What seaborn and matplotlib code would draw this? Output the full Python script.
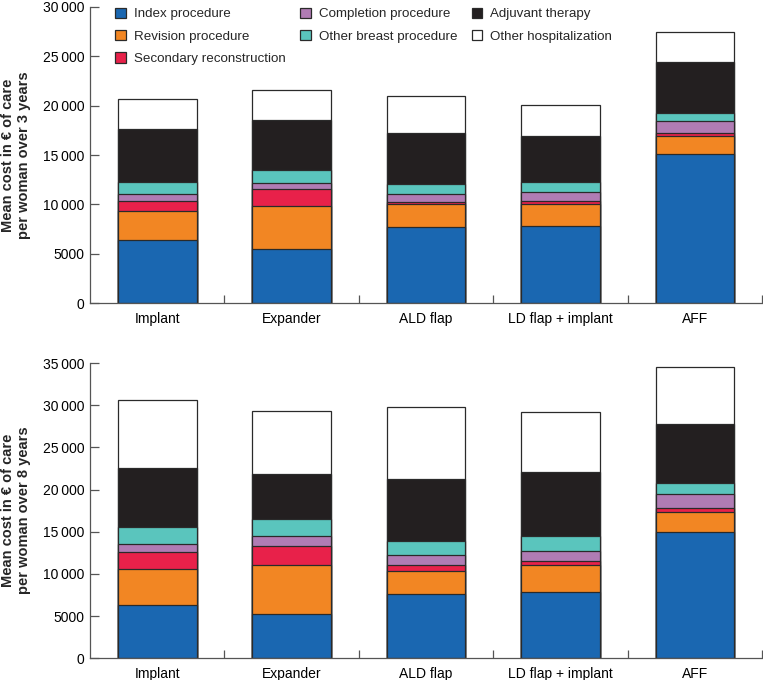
import matplotlib
matplotlib.use("Agg")
import matplotlib.pyplot as plt
from matplotlib.ticker import FuncFormatter, FixedLocator
import seaborn as sns
import pandas as pd
import numpy as np

categorias = ["Implant", "Expander", "ALD flap", "LD flap + implant", "AFF"]
componentes = ["Index procedure", "Revision procedure", "Secondary reconstruction",
               "Completion procedure", "Other breast procedure", "Adjuvant therapy",
               "Other hospitalization"]
colores = ["#1a67b1", "#f28623", "#e8214a", "#b07cb4", "#5ac5bd", "#231f20", "#ffffff"]

# costes medios por segmento (euros), 3 anios
index_3 = [6400, 5500, 7700, 7800, 15100]
revision_3 = [2900, 4300, 2300, 2200, 1800]
secundaria_3 = [1000, 1800, 200, 350, 300]
completion_3 = [750, 600, 900, 950, 1250]
otra_mama_3 = [1250, 1300, 1000, 1000, 800]
adyuvante_3 = [5300, 5000, 5100, 4650, 5200]
otra_hosp_3 = [3100, 3100, 3800, 3100, 3000]

# 8 anios
index_8 = [6300, 5300, 7650, 7800, 15000]
revision_8 = [4250, 5700, 2750, 3200, 2400]
secundaria_8 = [2000, 2350, 600, 550, 400]
completion_8 = [1000, 1200, 1200, 1200, 1650]
otra_mama_8 = [2050, 1950, 1700, 1800, 1350]
adyuvante_8 = [6950, 5300, 7350, 7550, 6950]
otra_hosp_8 = [8100, 7500, 8600, 7050, 6750]

datos_3 = [index_3, revision_3, secundaria_3, completion_3, otra_mama_3, adyuvante_3, otra_hosp_3]
datos_8 = [index_8, revision_8, secundaria_8, completion_8, otra_mama_8, adyuvante_8, otra_hosp_8]

sns.set_style("ticks")
plt.rcParams["font.family"] = ["Liberation Sans", "DejaVu Sans"]
plt.rcParams["axes.edgecolor"] = "#555555"
plt.rcParams["xtick.color"] = "#555555"
plt.rcParams["ytick.color"] = "#555555"
plt.rcParams["xtick.labelcolor"] = "black"
plt.rcParams["ytick.labelcolor"] = "black"


def miles(v, pos):
    v = int(round(v))
    if v >= 10000:
        return "{:,}".format(v).replace(",", "\u2009")
    return str(v)


def apilar(ax, datos, ymax, paso, etiqueta):
    tabla = pd.DataFrame({c: d for c, d in zip(componentes, datos)}, index=categorias)
    acumulado = tabla.cumsum(axis=1)
    # se dibujan de arriba hacia abajo para que cada capa tape a la anterior
    for comp, color in reversed(list(zip(componentes, colores))):
        df = pd.DataFrame({"cat": categorias, "valor": acumulado[comp].values})
        sns.barplot(data=df, x="cat", y="valor", color=color, width=0.585,
                    edgecolor="#2a2a2a", linewidth=0.9, saturation=1, ax=ax, label=comp)
    ax.set_xlim(-0.5, 4.5)
    ax.set_ylim(0, ymax)
    ax.set_yticks(np.arange(0, ymax + 1, paso))
    ax.yaxis.set_major_formatter(FuncFormatter(miles))
    ax.set_xlabel("")
    ax.set_ylabel(etiqueta, fontsize=10.5, fontweight="bold")
    ax.yaxis.set_label_coords(-0.088, 0.5)
    ax.tick_params(axis="y", direction="in", length=6.3, width=0.9, labelsize=10, pad=4)
    ax.tick_params(axis="x", which="major", length=0, labelsize=10, pad=6)
    ax.xaxis.set_minor_locator(FixedLocator([0.5, 1.5, 2.5, 3.5, 4.5]))
    ax.tick_params(axis="x", which="minor", direction="in", length=6, width=0.9)
    sns.despine(ax=ax)
    for s in ["left", "bottom"]:
        ax.spines[s].set_linewidth(0.9)
    leg = ax.get_legend()
    if leg is not None:
        leg.remove()


fig = plt.figure(figsize=(7.63, 6.8), dpi=100)
ax1 = fig.add_axes([0.118, 0.554, 0.881, 0.436])
ax2 = fig.add_axes([0.118, 0.032, 0.881, 0.434])

apilar(ax1, datos_3, 30000, 5000, "Mean cost in \u20ac of care\nper woman over 3 years")
apilar(ax2, datos_8, 35000, 5000, "Mean cost in \u20ac of care\nper woman over 8 years")

handles, labels = ax1.get_legend_handles_labels()
orden = {l: h for h, l in zip(handles, labels)}
ax1.legend([orden[c] for c in componentes], componentes, ncol=3, loc="upper left",
           bbox_to_anchor=(0.029, 1.015), frameon=False, fontsize=9.6,
           handlelength=0.8, handleheight=0.8, handletextpad=0.6,
           columnspacing=1.1, labelspacing=0.72, borderaxespad=0)

fig.savefig("out.png", dpi=100)
